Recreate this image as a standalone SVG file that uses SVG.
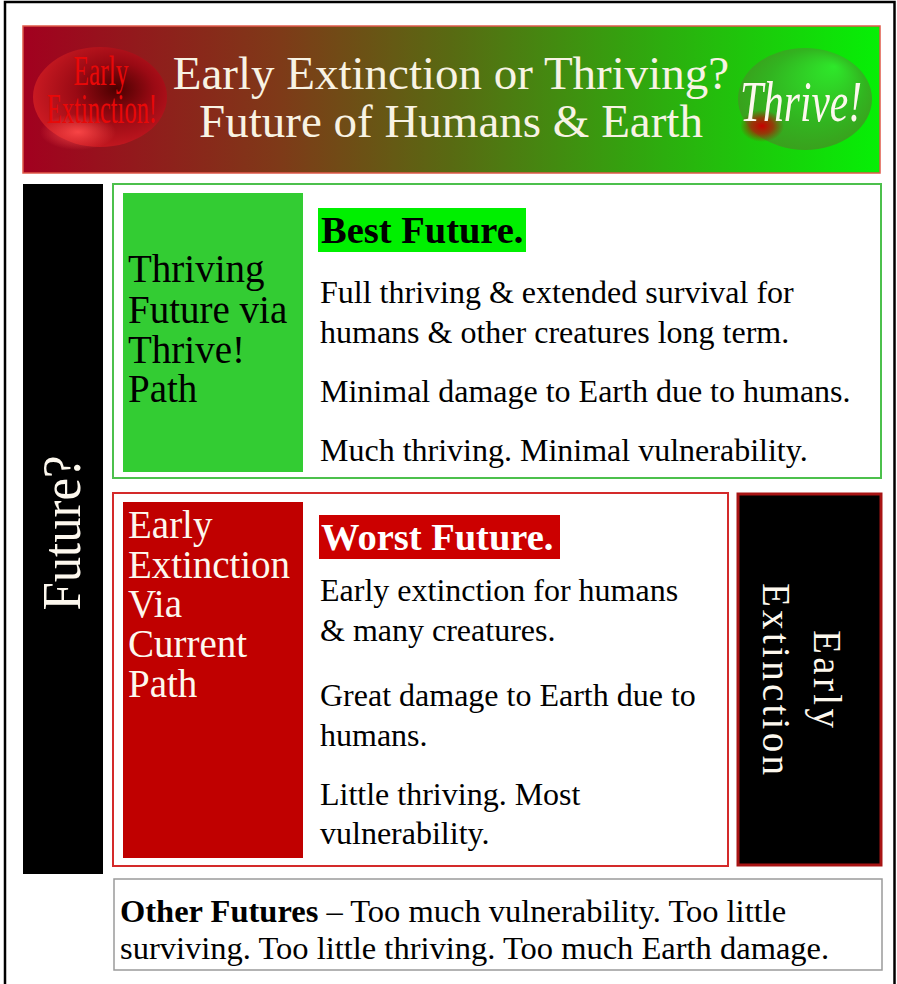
<svg xmlns="http://www.w3.org/2000/svg" width="897" height="984" viewBox="0 0 897 984">
  <defs>
    <linearGradient id="bannerGrad" x1="0" y1="0" x2="1" y2="0">
      <stop offset="0" stop-color="#a2001f"/>
      <stop offset="0.3" stop-color="#7e3a18"/>
      <stop offset="0.5" stop-color="#586a12"/>
      <stop offset="0.75" stop-color="#2cae0e"/>
      <stop offset="1" stop-color="#06f006"/>
    </linearGradient>
    <radialGradient id="redOval" cx="0.6" cy="0.45" r="0.65" fx="0.62" fy="0.42">
      <stop offset="0" stop-color="#4a0000"/>
      <stop offset="0.45" stop-color="#9a0a14"/>
      <stop offset="1" stop-color="#d01c24"/>
    </radialGradient>
    <radialGradient id="redGlow" cx="0.5" cy="0.5" r="0.5">
      <stop offset="0" stop-color="#ff4a4a" stop-opacity="0.9"/>
      <stop offset="1" stop-color="#ff4a4a" stop-opacity="0"/>
    </radialGradient>
    <radialGradient id="greenOval" cx="0.5" cy="0.5" r="0.6" fx="0.72" fy="0.18">
      <stop offset="0" stop-color="#2ee82a"/>
      <stop offset="0.6" stop-color="#32b420"/>
      <stop offset="1" stop-color="#3c9a1c"/>
    </radialGradient>
    <radialGradient id="redSpot" cx="0.5" cy="0.5" r="0.5">
      <stop offset="0" stop-color="#c80000"/>
      <stop offset="0.5" stop-color="#b81000" stop-opacity="0.7"/>
      <stop offset="1" stop-color="#a02000" stop-opacity="0"/>
    </radialGradient>
    <style>
      .serif { font-family: "Liberation Serif", "Times New Roman", serif; }
      .title { font-size: 47px; fill: #f8f3e4; text-anchor: middle; }
      .side { font-size: 39px; }
      .body { font-size: 32px; fill: #000000; }
      .head { font-size: 38.5px; font-weight: bold; }
      .cream { fill: #fdf8ee; }
    </style>
  </defs>

  <rect width="897" height="984" fill="#ffffff"/>
  <rect id="frame" x="5" y="2" width="889.5" height="995" fill="none" stroke="#000000" stroke-width="2.5"/>

  <g id="header">
    <rect x="23" y="26" width="857" height="147" fill="url(#bannerGrad)" stroke="#e05a4a" stroke-width="1.5"/>
    <text class="serif title" x="451" y="89">Early Extinction or Thriving?</text>
    <text class="serif title" x="451" y="137">Future of Humans &amp; Earth</text>
  </g>

  <g id="oval-extinction">
    <ellipse cx="100" cy="97" rx="67" ry="50" fill="url(#redOval)"/>
    <ellipse cx="78" cy="132" rx="38" ry="18" fill="url(#redGlow)"/>
    <text class="serif" x="101" y="85" font-size="42" fill="#e80808" text-anchor="middle" textLength="55" lengthAdjust="spacingAndGlyphs">Early</text>
    <text class="serif" x="102" y="123" font-size="42" fill="#e80808" text-anchor="middle" textLength="110" lengthAdjust="spacingAndGlyphs">Extinction!</text>
  </g>

  <g id="oval-thrive">
    <ellipse cx="805" cy="99" rx="67" ry="51" fill="url(#greenOval)"/>
    <ellipse cx="762" cy="126" rx="22" ry="16" fill="url(#redSpot)"/>
    <text class="serif" x="801" y="121" font-size="56" font-style="italic" fill="#fdf8ee" text-anchor="middle" textLength="122" lengthAdjust="spacingAndGlyphs">Thrive!</text>
  </g>

  <g id="future-bar">
    <rect x="23" y="184" width="80" height="690" fill="#000000"/>
    <text class="serif cream" transform="translate(80,533) rotate(-90)" x="0" y="0" font-size="55" text-anchor="middle" textLength="155" lengthAdjust="spacingAndGlyphs">Future?</text>
  </g>

  <g id="best-future">
    <rect x="113" y="184" width="768" height="294" fill="#ffffff" stroke="#4cc04c" stroke-width="2"/>
    <rect x="123" y="193" width="180" height="279" fill="#33cc33"/>
    <text class="serif side" fill="#000000">
      <tspan x="128" y="282">Thriving</tspan>
      <tspan x="128" y="323">Future via</tspan>
      <tspan x="128" y="363">Thrive!</tspan>
      <tspan x="128" y="402">Path</tspan>
    </text>
    <rect x="318" y="208" width="208" height="44" fill="#00f000"/>
    <text class="serif head" x="321" y="243" fill="#000000">Best Future.</text>
    <text class="serif body">
      <tspan x="320" y="303">Full thriving &amp; extended survival for</tspan>
      <tspan x="320" y="343">humans &amp; other creatures long term.</tspan>
      <tspan x="320" y="402">Minimal damage to Earth due to humans.</tspan>
      <tspan x="320" y="461">Much thriving. Minimal vulnerability.</tspan>
    </text>
  </g>

  <g id="worst-future">
    <rect x="113" y="493" width="615" height="373" fill="#ffffff" stroke="#d42a2a" stroke-width="2"/>
    <rect x="123" y="502" width="180" height="356" fill="#c00000"/>
    <text class="serif side cream">
      <tspan x="128" y="538">Early</tspan>
      <tspan x="128" y="578" textLength="162" lengthAdjust="spacing">Extinction</tspan>
      <tspan x="128" y="617">Via</tspan>
      <tspan x="128" y="657">Current</tspan>
      <tspan x="128" y="697">Path</tspan>
    </text>
    <rect x="319" y="515" width="241" height="44" fill="#cc0000"/>
    <text class="serif head" x="321" y="550" fill="#ffffff">Worst Future.</text>
    <text class="serif body">
      <tspan x="320" y="601">Early extinction for humans</tspan>
      <tspan x="320" y="641">&amp; many creatures.</tspan>
      <tspan x="320" y="706">Great damage to Earth due to</tspan>
      <tspan x="320" y="746">humans.</tspan>
      <tspan x="320" y="805">Little thriving. Most</tspan>
      <tspan x="320" y="844">vulnerability.</tspan>
    </text>
  </g>

  <g id="early-extinction-box">
    <rect x="738" y="494" width="143" height="371" fill="#000000" stroke="#a81414" stroke-width="3"/>
    <text class="serif cream" transform="translate(814,679) rotate(90)" x="0" y="0" font-size="39" text-anchor="middle" textLength="98" lengthAdjust="spacing">Early</text>
    <text class="serif cream" transform="translate(763,679) rotate(90)" x="0" y="0" font-size="39" text-anchor="middle" textLength="192" lengthAdjust="spacing">Extinction</text>
  </g>

  <g id="other-futures">
    <rect x="114" y="879" width="768" height="91" fill="#ffffff" stroke="#9a9a9a" stroke-width="1.5"/>
    <text class="serif" font-size="32.5" fill="#000000">
      <tspan x="120" y="922"><tspan font-weight="bold">Other Futures</tspan> – Too much vulnerability. Too little</tspan>
      <tspan x="120" y="959">surviving. Too little thriving. Too much Earth damage.</tspan>
    </text>
  </g>

  <g id="connectors"/>
</svg>
